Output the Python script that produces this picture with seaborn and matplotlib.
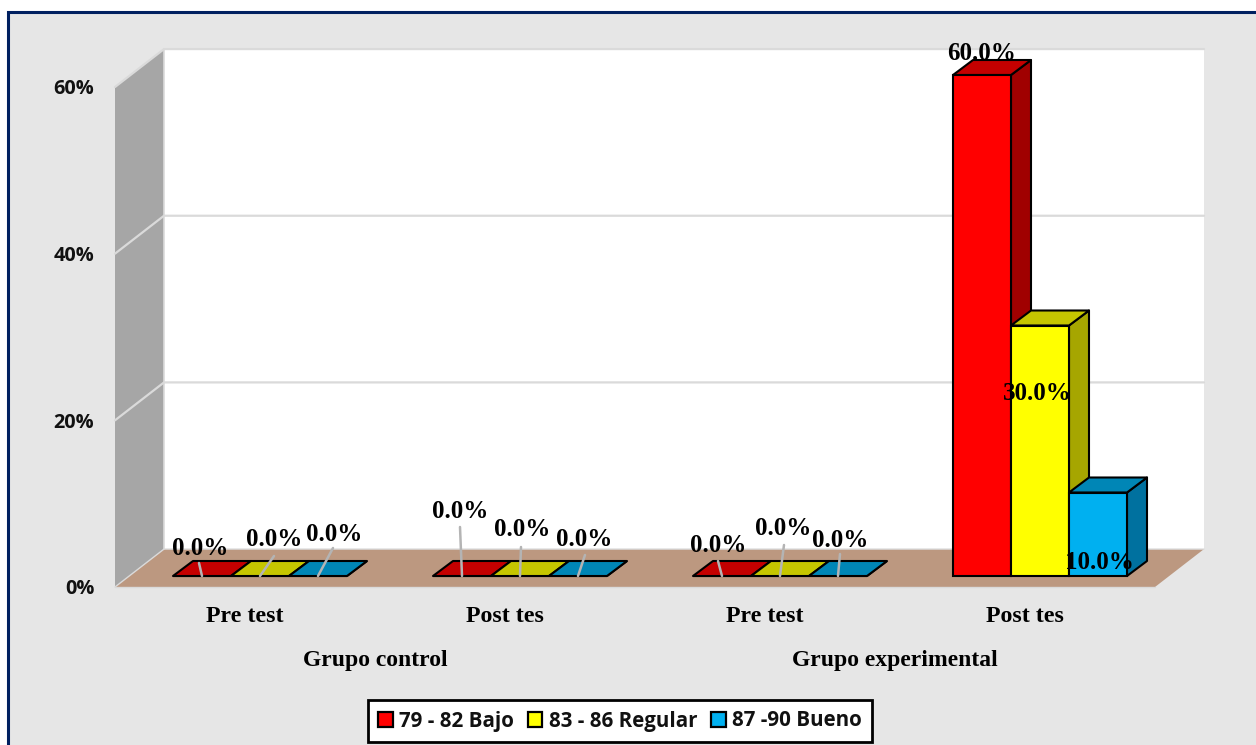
import matplotlib
matplotlib.use('Agg')
import matplotlib.pyplot as plt
from matplotlib.patches import Polygon, Rectangle
import pandas as pd
import seaborn as sns

# Chart values
groups = ['Grupo control', 'Grupo experimental']
tests = ['Pre test', 'Post tes', 'Pre test', 'Post tes']
levels = ['79 - 82 Bajo', '83 - 86 Regular', '87 -90 Bueno']
bajo = [0.0, 0.0, 0.0, 60.0]
regular = [0.0, 0.0, 0.0, 30.0]
bueno = [0.0, 0.0, 0.0, 10.0]
y_ticks = [0, 20, 40, 60]

# Colours: front, top, side
front_colors = ['#FF0000', '#FFFF00', '#00B0F0']
top_colors = ['#C40000', '#C6C600', '#0086B6']
side_colors = ['#A00000', '#A6A600', '#00719F']

# Label offsets from the bar base in pixels, one row per level
label_offsets = [[(-2, 27.5), (-2, 64.5), (-4, 30.5), (0, 522)],
                 [(14, 36.5), (2, 46.5), (3, 47.5), (-3, 182.5)],
                 [(16, 41.5), (6, 36.5), (2, 35.5), (1, 13.5)]]
leader_tips = [[(-3, 13), (-2, 49), (-4, 15), None],
               [(14, 20), (1, 29), (4, 31), None],
               [(15, 28), (7, 21), (2, 22), None]]

W, H = 1256, 745
px_per_cat = 260
px_per_pct = 8.35


def rect(left, top, right, bottom):
    return [left / W, 1 - bottom / H, (right - left) / W, (bottom - top) / H]


sns.set_style('white')
plt.rcParams['font.family'] = ['Liberation Serif', 'DejaVu Sans']

df = pd.DataFrame({
    'slot': [f'{i}' for i in range(4)] * 3,
    'level': [lv for lv in levels for _ in range(4)],
    'value': bajo + regular + bueno,
})

fig = plt.figure(figsize=(W / 100, H / 100), dpi=100, facecolor='white')

# Grey chart area with the dark border
fig.add_artist(Rectangle((8 / W, -0.05), 1.1, 1.05 - 12 / H, transform=fig.transFigure,
                         facecolor='#E6E6E6', edgecolor='#002060', linewidth=2.2, zorder=-1))

# Front plane of the box: carries the axis labels, walls and floor
ax_wall = fig.add_axes(rect(115, 87, 1155, 587))
ax_wall.set_facecolor('none')
ax_wall.set_xlim(-0.5, 3.5)
ax_wall.set_ylim(0, 60)
sns.despine(ax=ax_wall, left=True, bottom=True)

dx_wall = 49 / px_per_cat
dy_wall = 38 / px_per_pct
x0, x1 = -0.5, 3.5
y0, y1 = 0, 60
grid_color = '#DADADA'

ax_wall.add_patch(Polygon([(x0 + dx_wall, y0 + dy_wall), (x1 + dx_wall, y0 + dy_wall),
                           (x1 + dx_wall, y1 + dy_wall), (x0 + dx_wall, y1 + dy_wall)],
                          facecolor='white', edgecolor='none', clip_on=False))
ax_wall.add_patch(Polygon([(x0, y0), (x0 + dx_wall, y0 + dy_wall),
                           (x0 + dx_wall, y1 + dy_wall), (x0, y1)],
                          facecolor='#A6A6A6', edgecolor='none', clip_on=False))
ax_wall.add_patch(Polygon([(x0, y0), (x1, y0), (x1 + dx_wall, y0 + dy_wall),
                           (x0 + dx_wall, y0 + dy_wall)],
                          facecolor='#BC9880', edgecolor='none', clip_on=False))
for t in y_ticks[1:]:
    ax_wall.plot([x0, x0 + dx_wall, x1 + dx_wall], [t, t + dy_wall, t + dy_wall],
                 color=grid_color, lw=1.6, clip_on=False)
ax_wall.plot([x0 + dx_wall, x0 + dx_wall], [y0 + dy_wall, y1 + dy_wall],
             color=grid_color, lw=1.2, clip_on=False)
ax_wall.plot([x0, x0 + dx_wall, x1 + dx_wall], [y0, y0 + dy_wall, y0 + dy_wall],
             color=grid_color, lw=1.0, clip_on=False)
ax_wall.plot([x0, x1], [y0, y0], color=grid_color, lw=1.0, clip_on=False)

ax_wall.set_yticks(y_ticks)
ax_wall.set_yticklabels([f'{t}%' for t in y_ticks], family='Open Sans', weight='bold',
                        fontsize=14.3, color='#111111')
ax_wall.set_xticks(range(4))
ax_wall.set_xticklabels(tests, weight='bold', fontsize=17.2, color='black')
ax_wall.tick_params(axis='y', length=0, pad=15)
ax_wall.tick_params(axis='x', length=0, pad=13.5)
for i, g in enumerate(groups):
    ax_wall.text(2 * i + 0.5, -8.8, g, ha='center', va='center', weight='bold',
                 fontsize=17, color='black', clip_on=False)

# Bars sit a little inside the box
ax = fig.add_axes(rect(130, 576 - 60 * px_per_pct, 1170, 576))
ax.set_facecolor('none')
sns.barplot(data=df, x='slot', y='value', hue='level', hue_order=levels, palette=front_colors,
            width=174 / px_per_cat, gap=0, saturation=1, edgecolor='black', linewidth=1.5, ax=ax)
ax.set_xlim(-0.5, 3.5)
ax.set_ylim(0, 60)
handles, labels = ax.get_legend_handles_labels()
ax.get_legend().remove()
ax.axis('off')

dx_bar = 20 / px_per_cat
dy_bar = 15 / px_per_pct

for k, container in enumerate(ax.containers):
    for j, bar in enumerate(container):
        bx, bw, bh = bar.get_x(), bar.get_width(), bar.get_height()
        bar.set_zorder(3)
        bar.set_clip_on(False)
        ax.add_patch(Polygon([(bx + bw, 0), (bx + bw + dx_bar, dy_bar),
                              (bx + bw + dx_bar, bh + dy_bar), (bx + bw, bh)],
                             facecolor=side_colors[k], edgecolor='black', linewidth=1.5,
                             joinstyle='round', clip_on=False, zorder=2))
        ax.add_patch(Polygon([(bx, bh), (bx + bw, bh), (bx + bw + dx_bar, bh + dy_bar),
                              (bx + dx_bar, bh + dy_bar)],
                             facecolor=top_colors[k], edgecolor='black', linewidth=1.5,
                             joinstyle='round', clip_on=False, zorder=2.5 if bh > 0 else 4))
        cx = bx + bw / 2
        tip = leader_tips[k][j]
        if tip is not None:
            ax.plot([cx, cx + tip[0] / px_per_cat], [0, tip[1] / px_per_pct],
                    color='#B4B4B4', lw=1.8, clip_on=False, zorder=5)
        off = label_offsets[k][j]
        # the tall bar's top face hides the foot of its label
        ax.text(cx + off[0] / px_per_cat, off[1] / px_per_pct, f'{bh:.1f}%', ha='center', va='center',
                fontsize=18, weight='bold', color='black', clip_on=False,
                zorder=2.2 if bh == 60 else 6)

# Legend
leg = fig.legend(handles, labels, loc='center', bbox_to_anchor=(620 / W, 1 - 721 / H), ncol=3,
                 frameon=True, fancybox=False, framealpha=1, edgecolor='black',
                 handlelength=0.7, handleheight=0.7, handletextpad=0.3, columnspacing=0.7,
                 borderpad=0.5, borderaxespad=0, labelcolor='#111111',
                 prop={'family': 'Open Sans', 'weight': 'bold', 'size': 14.8})
leg.get_frame().set_linewidth(2)
for h in leg.legend_handles:
    h.set_edgecolor('black')
    h.set_linewidth(1.6)

fig.savefig('out.png', dpi=100, facecolor=fig.get_facecolor())
plt.close(fig)
